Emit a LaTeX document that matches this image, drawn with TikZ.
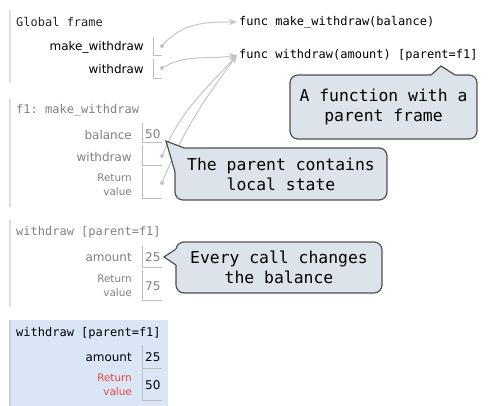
\documentclass[tikz,border=0pt]{standalone}
\usepackage{fontspec}
\setmainfont{DejaVu Sans}
\setmonofont{DejaVu Sans Mono}
\usetikzlibrary{positioning,arrows.meta}

\definecolor{ptrgray}{HTML}{C4C4C4}
\definecolor{bargray}{HTML}{DEDEDE}
\definecolor{boxgray}{HTML}{BDBDBD}
\definecolor{fadegray}{HTML}{808080}
\definecolor{activebg}{HTML}{DAE6F6}
\definecolor{activebar}{HTML}{C3D3EA}
\definecolor{bubblefill}{HTML}{DDE3EA}
\definecolor{bubbleline}{HTML}{505050}
\definecolor{retred}{HTML}{E8453C}

\tikzset{
  title/.style={anchor=west,inner sep=0pt,font=\ttfamily\fontsize{12}{14}\selectfont},
  varname/.style={anchor=east,inner sep=0pt,font=\fontsize{12}{14}\selectfont},
  retname/.style={anchor=east,inner sep=0pt,align=right,font=\fontsize{10.4}{13.5}\selectfont},
  val/.style={anchor=west,inner sep=0pt,font=\fontsize{12}{14}\selectfont},
  func/.style={anchor=west,inner sep=0pt,font=\ttfamily\fontsize{12}{14}\selectfont},
  framebar/.style={bargray,line width=2pt},
  valbox/.style={boxgray,line width=0.8pt},
  dot/.style={circle,fill=ptrgray,inner sep=0pt,minimum size=4pt},
  ptr/.style={ptrgray,line width=1pt,-{Stealth[length=8pt,width=6pt]}},
  bubble/.style={draw=bubbleline,fill=bubblefill,line width=1.2pt,rounded corners=8pt,
    align=center,inner sep=0pt,font=\ttfamily\fontsize{16.4}{20}\selectfont},
  bubbletail/.style={bubbleline,line width=1.2pt}
}

\begin{document}
\begin{tikzpicture}[x=1pt,y=1pt]
  \useasboundingbox (0,0) rectangle (490,406);

  % Global frame
  \draw[framebar] (10,396) -- (10,323);
  \node[title,text=black!85] (gtitle) at (16,384) {Global frame};
  \node[varname] (gmake) at (144,359) {make\_withdraw};
  \node[varname] (gwith) at (144,337) {withdraw};
  \draw[valbox] (153,369) |- (162,351);
  \draw[valbox] (153,347) |- (162,328);
  \node[dot] (gmakeptr) at (162,360) {};
  \node[dot] (gwithptr) at (162,338) {};

  \node[func] (fmake) at (239,384) {func make\_withdraw(balance)};
  \node[func] (fwith) at (239,351) {func withdraw(amount) [parent=f1]};

  % f1: make_withdraw
  \draw[framebar] (10,307) -- (10,199);
  \node[title,text=fadegray] (ftitle) at (16,296) {f1: make\_withdraw};
  \node[varname,text=fadegray] (fbal) at (132,271) {balance};
  \draw[valbox] (142,283) |- (162,264);
  \node[val,text=fadegray] (fbalv) at (145,272) {50};
  \node[varname,text=fadegray] (fwd) at (132,249) {withdraw};
  \draw[valbox] (142,261) |- (162,241);
  \node[dot] (fwdptr) at (162,250) {};
  \node[retname,text=fadegray] (fret) at (132,221) {Return\\value};
  \draw[valbox] (142,238) |- (162,208);
  \node[dot] (fretptr) at (162,223) {};

  % withdraw [parent=f1], first call
  \draw[framebar] (10,186) -- (10,99);
  \node[title,text=fadegray] (wtitle) at (16,174) {withdraw [parent=f1]};
  \node[varname,text=fadegray] (wamt) at (132,149) {amount};
  \draw[valbox] (142,160) |- (162,139);
  \node[val,text=fadegray] (wamtv) at (145,149) {25};
  \node[retname,text=fadegray] (wret) at (132,120) {Return\\value};
  \draw[valbox] (142,136) |- (162,106);
  \node[val,text=fadegray] (wretv) at (145,120) {75};

  % withdraw [parent=f1], current call
  \fill[activebg] (9,0) rectangle (168,86);
  \draw[activebar,line width=2pt] (10,86) -- (10,0);
  \node[title] (ctitle) at (16,73) {withdraw [parent=f1]};
  \node[varname] (camt) at (132,49) {amount};
  \draw[valbox] (142,61) |- (162,38);
  \node[val] (camtv) at (145,49) {25};
  \node[retname,text=retred] (cret) at (132,21) {Return\\value};
  \draw[valbox] (142,36) |- (162,6);
  \node[val] (cretv) at (145,21) {50};

  % pointers
  \draw[ptr] (gmakeptr.center) to[out=50,in=180] ([xshift=-2pt]fmake.west);
  \draw[ptr] (gwithptr.center) to[out=30,in=190] ([xshift=-2pt]fwith.west);
  \draw[ptr] (fwdptr.center) to[out=68,in=228] ([xshift=-2pt]fwith.west);
  \draw[ptr] (fretptr.center) to[out=68,in=234] ([xshift=-2pt]fwith.west);

  % callouts
  \node[bubble,minimum width=187pt,minimum height=64pt] (notefunc) at (383.5,299)
    {A function with a\\parent frame};
  \fill[bubblefill] (431,329) -- (431,331) -- (441,340) -- (455,331) -- (455,329) -- cycle;
  \draw[bubbletail] (431,331) -- (441,340) -- (455,331);

  \node[bubble,minimum width=212pt,minimum height=52pt] (noteparent) at (281,232)
    {The parent contains\\local state};
  \fill[bubblefill] (184,256) -- (184,258) -- (166,265) -- (175,234) -- (177,234) -- cycle;
  \draw[bubbletail] (184,258) -- (166,265) -- (175,234);

  \node[bubble,minimum width=206pt,minimum height=51pt] (notecall) at (279,138.5)
    {Every call changes\\the balance};
  \fill[bubblefill] (178,157) -- (176,157) -- (164,149) -- (176,141) -- (178,141) -- cycle;
  \draw[bubbletail] (176,157) -- (164,149) -- (176,141);
\end{tikzpicture}
\end{document}
